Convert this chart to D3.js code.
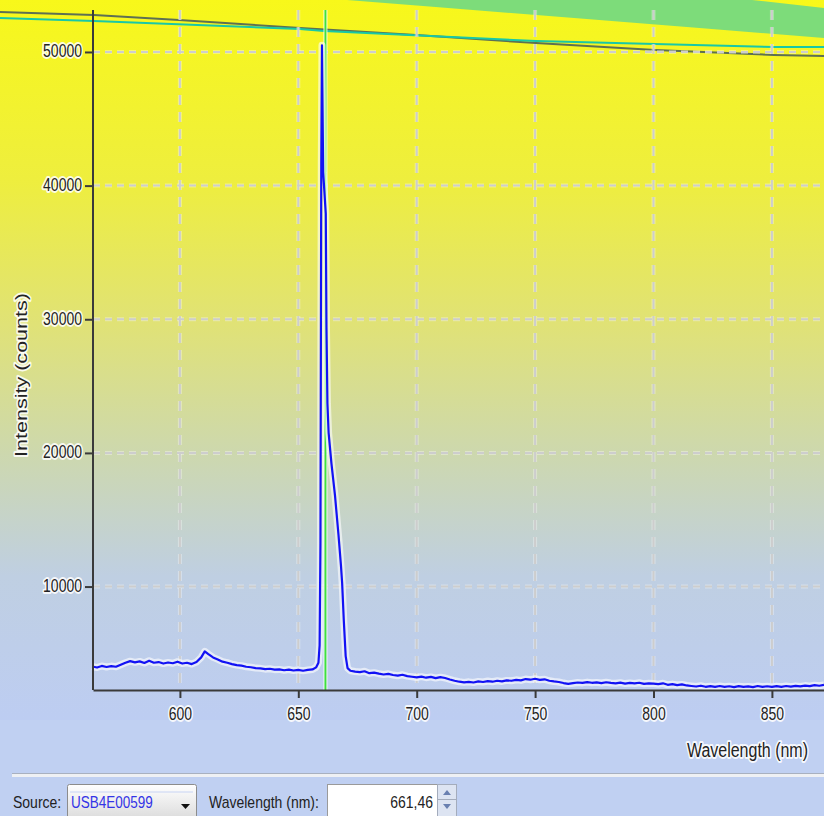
<!DOCTYPE html>
<html>
<head>
<meta charset="utf-8">
<script src="https://cdn.jsdelivr.net/npm/d3@7"></script>
<style>
body{margin:0;background:#c0d0f2;}
svg{display:block;font-family:"Liberation Sans",Arial,sans-serif;}
.halo{paint-order:stroke;stroke:#fff;stroke-width:3px;stroke-opacity:0.85;stroke-linejoin:round;}
</style>
</head>
<body>
<svg id="chart"></svg>
<script>
// spectrum
const wavelengths=[563,565,567,569,571,573,575,577,579,581,583,585,587,589,591,593,595,597,599,601,603,605,607,609,610.5,612,614,616,618,620,622,624,626,628,630,632,634,636,638,640,642,644,646,648,650,652,654,656,657.5,658.5,659,659.35,659.7,660,660.5,661.6,661.9,662.3,662.8,664,665.5,667,668,668.5,669.2,670,670.8,672,674,676,678,680,682,684,686,688,690,692,694,696,698,700,702,704,706,708,710,712,714,716,718,720,722,724,726,728,730,732,734,736,738,740,742,744,746,748,750,752,754,756,758,760,762,764,766,768,770,772,774,776,778,780,782,784,786,788,790,792,794,796,798,800,802,804,806,808,810,812,814,816,818,820,822,824,826,828,830,832,834,836,838,840,842,844,846,848,850,852,854,856,858,860,862,864,866,868,870,872];
const counts=[4020,3940,4060,3980,4050,4000,4150,4300,4420,4330,4400,4280,4450,4300,4350,4240,4320,4260,4380,4240,4300,4200,4350,4700,5150,4950,4700,4550,4380,4300,4200,4120,4080,4000,3960,3900,3880,3820,3850,3780,3800,3740,3790,3720,3770,3700,3760,3800,3950,4300,5600,13200,41600,50500,41000,37900,29400,23700,21500,19200,16800,13800,11600,10300,7500,4800,3900,3700,3640,3600,3660,3520,3560,3480,3420,3470,3380,3330,3400,3300,3250,3200,3260,3180,3240,3150,3220,3160,3050,2950,2880,2830,2870,2820,2900,2860,2930,2880,2950,2900,2980,2950,3020,2980,3080,3030,3100,3020,3060,2950,2900,2860,2780,2720,2770,2820,2790,2850,2800,2830,2780,2840,2790,2760,2810,2740,2790,2750,2800,2720,2760,2740,2700,2760,2650,2700,2630,2680,2600,2560,2520,2580,2500,2550,2490,2560,2500,2540,2480,2550,2500,2530,2480,2560,2500,2540,2490,2550,2500,2560,2510,2570,2530,2590,2550,2620,2580,2640];
const xTicks=[600,650,700,750,800,850];
const yTicks=[10000,20000,30000,40000,50000];
const cursorNm=661.46;
const sourceName="USB4E00599";
const cursorText="661,46";

const W=824,H=816;
const svg=d3.select("#chart").attr("width",W).attr("height",H);

let x=d3.scaleLinear().domain([563.3,872]).range([93,824]);
let y=d3.scaleLinear().domain([2260,53140]).range([690,10]);

// background gradient
let defs=svg.append("defs");
let bg=defs.append("linearGradient").attr("id","bg").attr("x1",0).attr("y1",0).attr("x2",0).attr("y2",1);
[[0,"#f8f81a"],[0.25,"#eeee3e"],[0.45,"#e0e276"],[0.63,"#cdd8ae"],[0.8,"#bfcfe2"],[1,"#bdcdf2"]]
	.forEach(s=>bg.append("stop").attr("offset",s[0]).attr("stop-color",s[1]));
svg.append("rect").attr("width",W).attr("height",H).attr("fill","#c0d0f2");
svg.append("rect").attr("width",W).attr("height",720).attr("fill","url(#bg)");

// decorative band at the top
svg.append("path").attr("d","M347,0 L752,0 L824,8 L824,38 Q600,20 347,0 Z").attr("fill","#7ddc7a");
svg.append("path").attr("d","M0,12 L94,15 L179,20 L300,28 L416,35 L536,43 L655,50 L774,55 L824,56")
	.attr("fill","none").attr("stroke","#5e7052").attr("stroke-width",2);
svg.append("path").attr("d","M0,18 L94,21 L300,29 L324,31 L536,41 L655,44 L774,47 L824,47")
	.attr("fill","none").attr("stroke","#19c8a6").attr("stroke-width",2);

// grid
let grid=svg.append("g");
[["#fff",4,0.35],["#cdcdcd",2,1]].forEach(s=>{
	grid.append("g").selectAll("line").data(xTicks).enter().append("line")
		.attr("x1",d=>x(d)).attr("x2",d=>x(d)).attr("y1",10).attr("y2",690)
		.attr("stroke",s[0]).attr("stroke-width",s[1]).attr("stroke-opacity",s[2]).attr("stroke-dasharray","10,7");
	grid.append("g").selectAll("line").data(yTicks).enter().append("line")
		.attr("x1",93).attr("x2",W).attr("y1",d=>y(d)).attr("y2",d=>y(d))
		.attr("stroke",s[0]).attr("stroke-width",s[1]).attr("stroke-opacity",s[2]).attr("stroke-dasharray","7,5");
});

// cursor
let cx=x(cursorNm);
svg.append("line").attr("x1",cx).attr("x2",cx).attr("y1",10).attr("y2",690)
	.attr("stroke","#fff").attr("stroke-width",4).attr("stroke-opacity",0.8);
svg.append("line").attr("x1",cx).attr("x2",cx).attr("y1",10).attr("y2",690)
	.attr("stroke","#3fe03f").attr("stroke-width",2);

// spectrum
let pts=wavelengths.map((w,i)=>[w,counts[i]]);
let line=d3.line().x(d=>x(d[0])).y(d=>y(d[1]));
svg.append("path").datum(pts).attr("d",line).attr("fill","none")
	.attr("stroke","#fff").attr("stroke-width",7).attr("stroke-opacity",0.6).attr("stroke-linejoin","round");
svg.append("path").datum(pts).attr("d",line).attr("fill","none")
	.attr("stroke","#1212f4").attr("stroke-width",2.2).attr("stroke-linejoin","round");

// axes
let sy=1.27;
let ax=svg.append("g").attr("transform","translate(93,0)")
	.call(d3.axisLeft(y).tickValues(yTicks).tickFormat(d3.format("d")).tickSize(8).tickSizeOuter(0).tickPadding(3));
let bx=svg.append("g").attr("transform","translate(0,690)")
	.call(d3.axisBottom(x).tickValues(xTicks).tickFormat(d3.format("d")).tickSize(8).tickSizeOuter(0));
[ax,bx].forEach(g=>{
	g.select(".domain").attr("stroke","#3a3a3a").attr("stroke-width",2);
	g.selectAll(".tick line").attr("stroke","#3a3a3a").attr("stroke-width",2);
	g.selectAll("text").attr("class","halo").attr("fill","#222").attr("font-size",14)
		.attr("font-family","'Liberation Sans',Arial,sans-serif");
});
ax.select(".domain").attr("d","M0,690V10");
ax.selectAll("text").attr("dy",null).attr("y",0).attr("transform","translate(0,5) scale(1,"+sy+")");
bx.selectAll("text").attr("dy",null).attr("y",0).attr("transform","translate(0,30) scale(1,"+sy+")");

// axis titles
svg.append("text").attr("class","halo").attr("fill","#222").attr("font-size",16)
	.attr("text-anchor","middle").attr("transform","translate(27,375) rotate(-90)")
	.attr("textLength",164).attr("lengthAdjust","spacingAndGlyphs").text("Intensity (counts)");
svg.append("text").attr("class","halo").attr("fill","#222").attr("font-size",16)
	.attr("text-anchor","end").attr("transform","translate(808,757) scale(1,"+sy+")").text("Wavelength (nm)");

// bottom control bar
let bar=svg.append("g");
bar.append("rect").attr("x",12).attr("y",773).attr("width",W-12).attr("height",1).attr("fill","#a8b0c0");
bar.append("rect").attr("x",12).attr("y",774).attr("width",W-12).attr("height",3).attr("fill","#eef0f4");
let tfs="scale(1,1.2)";
bar.append("text").attr("transform","translate(13,808) "+tfs).attr("font-size",14).attr("fill","#222").text("Source:");
let dd=defs.append("linearGradient").attr("id","dd").attr("x1",0).attr("y1",0).attr("x2",0).attr("y2",1);
dd.append("stop").attr("offset",0).attr("stop-color","#ffffff");
dd.append("stop").attr("offset",1).attr("stop-color","#dcdcdc");
bar.append("rect").attr("x",67.5).attr("y",784.5).attr("width",129).attr("height",34).attr("rx",2)
	.attr("fill","url(#dd)").attr("stroke","#8c8c8c");
bar.append("line").attr("x1",70).attr("x2",193).attr("y1",792).attr("y2",792).attr("stroke","#c8d4f4").attr("stroke-width",1);
bar.append("text").attr("transform","translate(71,808) "+tfs).attr("font-size",13.5).attr("fill","#3434e6").text(sourceName);
bar.append("path").attr("d","M181,804 L190,804 L185.5,809 Z").attr("fill","#111");
bar.append("text").attr("transform","translate(209,808) "+tfs).attr("font-size",14).attr("fill","#222").text("Wavelength (nm):");
bar.append("rect").attr("x",327.5).attr("y",784.5).attr("width",110).attr("height",34).attr("fill","#fff").attr("stroke","#9a9a9a");
bar.append("text").attr("transform","translate(433,808) "+tfs).attr("font-size",14).attr("fill","#222").attr("text-anchor","end").text(cursorText);
bar.append("rect").attr("x",437.5).attr("y",784.5).attr("width",19).attr("height",15).attr("fill","#dde4f2").attr("stroke","#a4acbc");
bar.append("rect").attr("x",437.5).attr("y",799.5).attr("width",19).attr("height",17).attr("fill","#dde4f2").attr("stroke","#a4acbc");
bar.append("path").attr("d","M443,795 L451,795 L447,790 Z").attr("fill","#6a80b0");
bar.append("path").attr("d","M443,804 L451,804 L447,809 Z").attr("fill","#6a80b0");
</script>
</body>
</html>
